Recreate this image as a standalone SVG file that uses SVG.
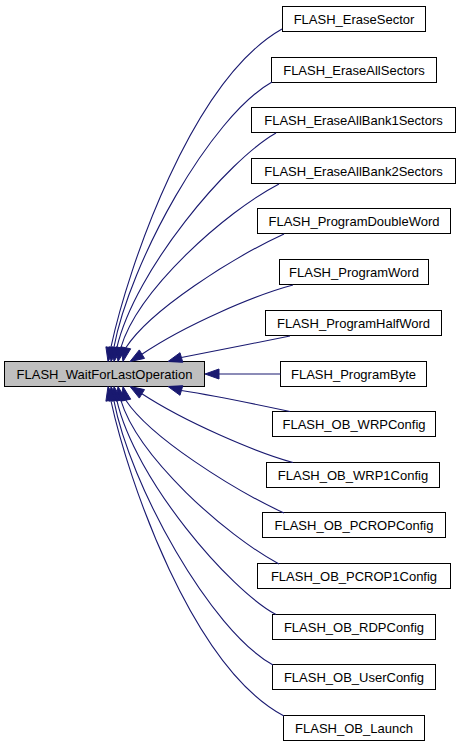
<svg xmlns="http://www.w3.org/2000/svg" width="460" height="747" viewBox="0 0 460 747">
<style>
.n rect{fill:#ffffff;stroke:#000000;stroke-width:1}
.m rect{fill:#bfbfbf;stroke:#000000;stroke-width:1}
text{font-family:"Liberation Sans",Arial,sans-serif;font-size:13px;fill:#000000;text-anchor:middle}
.e path{fill:none;stroke:#191970;stroke-width:1.1}
.e polygon{fill:#191970;stroke:#191970;stroke-width:1}
</style>
<rect x="0" y="0" width="460" height="747" fill="#ffffff"/>
<g id="node-main" class="m"><rect x="4.5" y="361.5" width="200" height="25"/><text x="104.5" y="378.5">FLASH_WaitForLastOperation</text></g>
<g id="node-0" class="n"><rect x="282.5" y="6.5" width="143" height="25"/><text x="354" y="23.5">FLASH_EraseSector</text></g>
<g id="node-1" class="n"><rect x="271.5" y="57.5" width="165" height="25"/><text x="354" y="74.5">FLASH_EraseAllSectors</text></g>
<g id="node-2" class="n"><rect x="251.5" y="107.5" width="204" height="25"/><text x="353.5" y="124.5">FLASH_EraseAllBank1Sectors</text></g>
<g id="node-3" class="n"><rect x="251.5" y="158.5" width="204" height="25"/><text x="353.5" y="175.5">FLASH_EraseAllBank2Sectors</text></g>
<g id="node-4" class="n"><rect x="257.5" y="208.5" width="193" height="25"/><text x="354" y="225.5">FLASH_ProgramDoubleWord</text></g>
<g id="node-5" class="n"><rect x="279.5" y="259.5" width="149" height="25"/><text x="354" y="276.5">FLASH_ProgramWord</text></g>
<g id="node-6" class="n"><rect x="265.5" y="310.5" width="176" height="25"/><text x="353.5" y="327.5">FLASH_ProgramHalfWord</text></g>
<g id="node-7" class="n"><rect x="280.5" y="361.5" width="146" height="25"/><text x="353.5" y="378.5">FLASH_ProgramByte</text></g>
<g id="node-8" class="n"><rect x="272.5" y="411.5" width="163" height="25"/><text x="354" y="428.5">FLASH_OB_WRPConfig</text></g>
<g id="node-9" class="n"><rect x="266.5" y="462.5" width="173" height="25"/><text x="353" y="479.5">FLASH_OB_WRP1Config</text></g>
<g id="node-10" class="n"><rect x="262.5" y="512.5" width="183" height="25"/><text x="354" y="529.5">FLASH_OB_PCROPConfig</text></g>
<g id="node-11" class="n"><rect x="257.5" y="563.5" width="193" height="25"/><text x="354" y="580.5">FLASH_OB_PCROP1Config</text></g>
<g id="node-12" class="n"><rect x="272.5" y="614.5" width="163" height="25"/><text x="354" y="631.5">FLASH_OB_RDPConfig</text></g>
<g id="node-13" class="n"><rect x="272.5" y="664.5" width="163" height="25"/><text x="354" y="681.5">FLASH_OB_UserConfig</text></g>
<g id="node-14" class="n"><rect x="283.5" y="715.5" width="141" height="25"/><text x="354" y="732.5">FLASH_OB_Launch</text></g>
<g id="edges" class="e">
<path d="M282,29 C192,80 128,267 110.8,347.8"/><polygon points="108,361.5 105.9,346.8 115.7,348.8"/>
<path d="M272,82 C210,117 130,262 113.8,347.8"/><polygon points="111,361.5 108.9,346.8 118.7,348.8"/>
<path d="M276,133 C228,160 135,270 116.8,347.8"/><polygon points="114,361.5 111.9,346.8 121.7,348.8"/>
<path d="M279,184 C225,212 138,290 120.8,347.8"/><polygon points="118,361.5 115.9,346.8 125.7,348.8"/>
<path d="M284,234 C232,258 150,310 125.8,347.8"/><polygon points="123,361.5 120.9,346.8 130.7,348.8"/>
<path d="M293,285 C255,295 185,325 141.9,354.2"/><polygon points="130,361.5 139.3,349.9 144.5,358.4"/>
<path d="M290,336 C255,343 210,352 181.4,357.5"/><polygon points="168,361.5 180,352.7 182.8,362.3"/>
<path d="M280.5,374 L219,374"/><polygon points="205,374 219,369 219,379"/>
<path d="M290,411.5 C255,404 210,395 181.4,390.5"/><polygon points="168,386.5 180,395.3 182.8,385.7"/>
<path d="M293,462.5 C255,452 185,422 141.9,393.8"/><polygon points="130,386.5 139.3,398.1 144.5,389.6"/>
<path d="M284,513 C232,489 150,437 125.8,400.2"/><polygon points="123,386.5 120.9,401.2 130.7,399.2"/>
<path d="M279,564 C225,535 138,457 120.8,400.2"/><polygon points="118,386.5 115.9,401.2 125.7,399.2"/>
<path d="M276,614.5 C230,590 135,480 116.8,400.2"/><polygon points="114,386.5 111.9,401.2 121.7,399.2"/>
<path d="M273,665 C210,630 130,485 113.8,400.2"/><polygon points="111,386.5 108.9,401.2 118.7,399.2"/>
<path d="M284,716 C192,667 128,480 110.8,400.2"/><polygon points="108,386.5 105.9,401.2 115.7,399.2"/>
</g>
</svg>
